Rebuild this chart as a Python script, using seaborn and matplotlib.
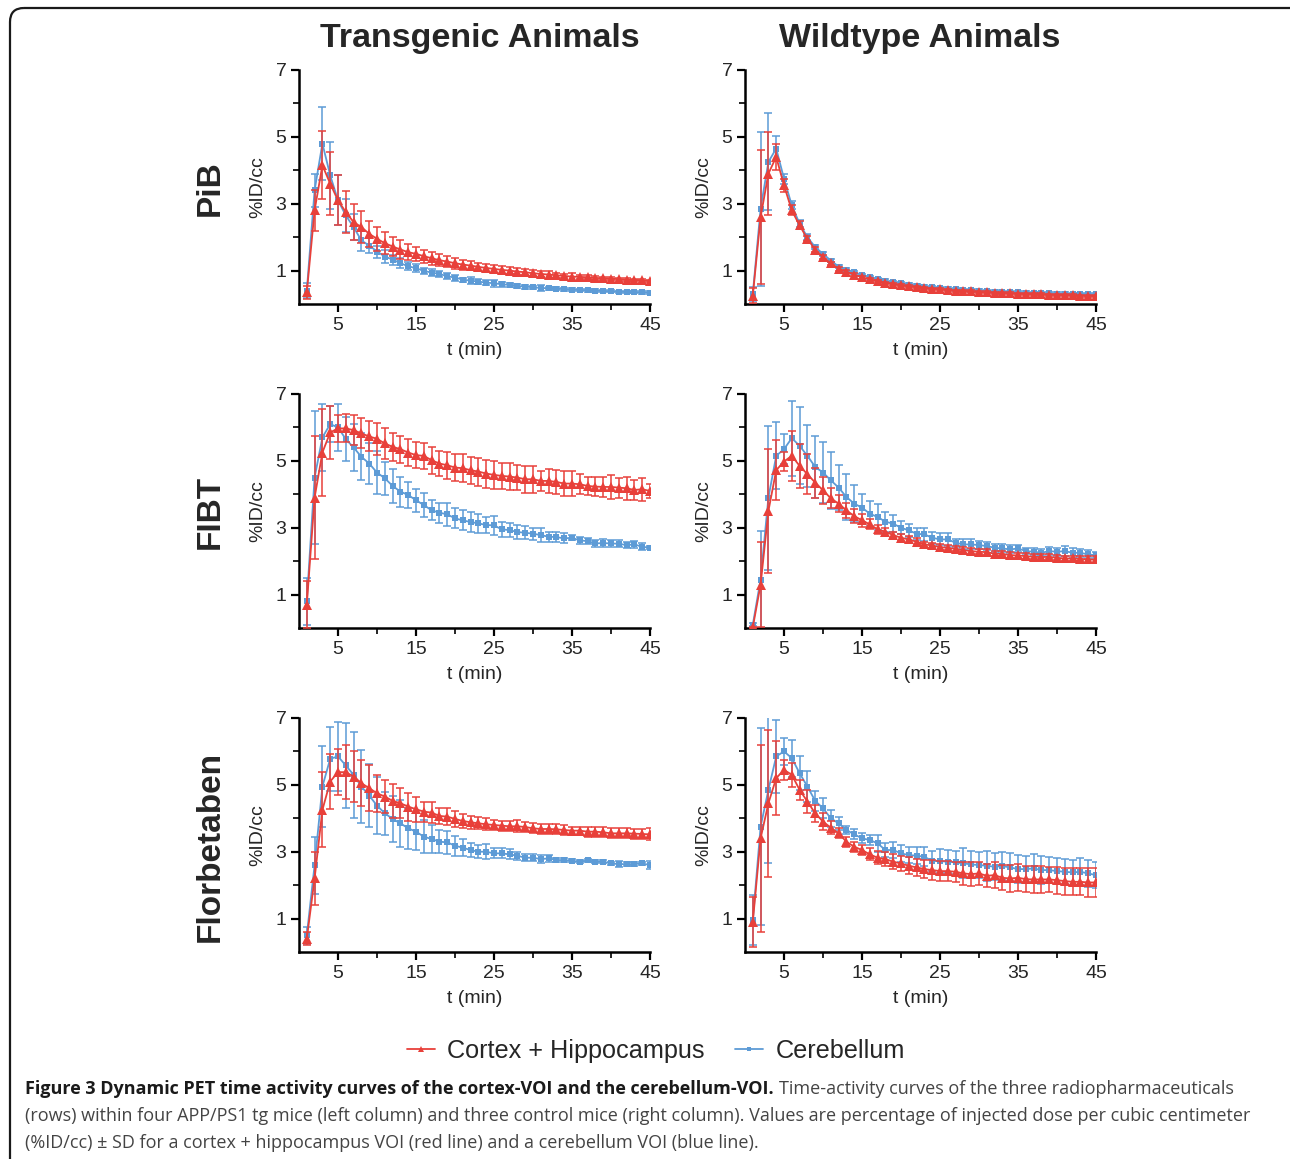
import numpy as np
import seaborn as sns
import matplotlib.pyplot as plt
from matplotlib.lines import Line2D
from matplotlib.patches import FancyBboxPatch
from matplotlib.ticker import FixedLocator

sns.set_style("ticks")
plt.rcParams['font.family'] = ['Liberation Sans', 'DejaVu Sans']

# frame times (min)
t_min = np.arange(1, 46)

# ---- PiB, transgenic ----
pib_tg_ctx = [0.35, 2.8, 4.15, 3.6, 3.1, 2.75, 2.45, 2.3, 2.1, 1.95, 1.82, 1.72, 1.63, 1.55, 1.5,
              1.43, 1.37, 1.31, 1.27, 1.22, 1.18, 1.15, 1.11, 1.08, 1.05, 1.02, 1.0, 0.97, 0.95, 0.92,
              0.9, 0.88, 0.86, 0.84, 0.82, 0.81, 0.8, 0.78, 0.77, 0.76, 0.74, 0.73, 0.72, 0.71, 0.69]
pib_tg_ctx_sd = [0.2, 0.62, 1.02, 0.95, 0.75, 0.62, 0.55, 0.47, 0.38, 0.36, 0.33, 0.27, 0.27, 0.24, 0.22,
                 0.2, 0.19, 0.18, 0.17, 0.16, 0.15, 0.14, 0.13, 0.12, 0.12, 0.11, 0.1, 0.1, 0.09, 0.09,
                 0.08, 0.12, 0.07, 0.07, 0.12, 0.06, 0.06, 0.05, 0.05, 0.05, 0.05, 0.05, 0.04, 0.04, 0.04]
pib_tg_cb = [0.4, 3.4, 4.8, 3.85, 3.1, 2.65, 2.3, 1.9, 1.75, 1.57, 1.42, 1.33, 1.22, 1.13, 1.07,
             0.99, 0.94, 0.9, 0.83, 0.79, 0.73, 0.7, 0.67, 0.64, 0.62, 0.59, 0.57, 0.54, 0.52, 0.5,
             0.48, 0.47, 0.46, 0.44, 0.43, 0.42, 0.41, 0.4, 0.39, 0.38, 0.37, 0.36, 0.35, 0.35, 0.34]
pib_tg_cb_sd = [0.22, 0.5, 1.1, 1.0, 0.75, 0.5, 0.4, 0.32, 0.22, 0.18, 0.2, 0.15, 0.15, 0.12, 0.12,
                0.1, 0.1, 0.1, 0.09, 0.09, 0.06, 0.1, 0.08, 0.07, 0.1, 0.08, 0.06, 0.07, 0.06, 0.05,
                0.08, 0.05, 0.05, 0.04, 0.04, 0.04, 0.04, 0.04, 0.03, 0.03, 0.03, 0.03, 0.03, 0.05, 0.05]

# ---- PiB, wildtype ----
pib_wt_ctx = [0.25, 2.6, 3.9, 4.4, 3.55, 2.8, 2.35, 1.95, 1.63, 1.4, 1.22, 1.05, 0.97, 0.88, 0.8,
              0.74, 0.69, 0.64, 0.6, 0.56, 0.53, 0.51, 0.48, 0.46, 0.44, 0.42, 0.4, 0.39, 0.38, 0.36,
              0.35, 0.34, 0.33, 0.32, 0.31, 0.3, 0.3, 0.29, 0.28, 0.27, 0.27, 0.26, 0.25, 0.24, 0.24]
pib_wt_ctx_sd = [0.22, 2.0, 1.25, 0.4, 0.2, 0.15, 0.12, 0.08, 0.07, 0.06, 0.05, 0.05, 0.05, 0.04, 0.04,
                 0.04, 0.04, 0.03, 0.03, 0.03, 0.03, 0.03, 0.03, 0.03, 0.03, 0.03, 0.03, 0.03, 0.03, 0.03,
                 0.03, 0.03, 0.03, 0.03, 0.03, 0.03, 0.03, 0.03, 0.03, 0.03, 0.03, 0.03, 0.03, 0.03, 0.03]
pib_wt_cb = [0.3, 2.85, 4.25, 4.65, 3.75, 2.95, 2.4, 2.0, 1.7, 1.5, 1.3, 1.12, 1.03, 0.95, 0.87,
             0.8, 0.75, 0.7, 0.66, 0.62, 0.58, 0.55, 0.52, 0.5, 0.48, 0.46, 0.44, 0.42, 0.41, 0.4,
             0.39, 0.37, 0.36, 0.36, 0.35, 0.34, 0.33, 0.33, 0.32, 0.31, 0.31, 0.3, 0.3, 0.29, 0.29]
pib_wt_cb_sd = [0.22, 2.3, 1.45, 0.38, 0.15, 0.12, 0.1, 0.08, 0.06, 0.05, 0.05, 0.04, 0.04, 0.04, 0.04,
                0.04, 0.04, 0.04, 0.04, 0.04, 0.04, 0.04, 0.04, 0.04, 0.04, 0.04, 0.04, 0.04, 0.04, 0.04,
                0.04, 0.04, 0.04, 0.04, 0.04, 0.04, 0.04, 0.04, 0.04, 0.04, 0.04, 0.04, 0.04, 0.04, 0.04]

# ---- FIBT, transgenic ----
fibt_tg_ctx = [0.7, 3.9, 5.25, 5.85, 5.97, 5.97, 5.92, 5.82, 5.73, 5.66, 5.52, 5.42, 5.35, 5.25, 5.17,
               5.15, 5.02, 4.92, 4.87, 4.8, 4.78, 4.72, 4.68, 4.62, 4.58, 4.55, 4.53, 4.5, 4.45, 4.45,
               4.4, 4.4, 4.37, 4.32, 4.32, 4.3, 4.25, 4.23, 4.22, 4.22, 4.2, 4.18, 4.13, 4.15, 4.1]
fibt_tg_ctx_sd = [0.7, 1.85, 1.3, 0.8, 0.4, 0.42, 0.45, 0.45, 0.45, 0.48, 0.45, 0.42, 0.4, 0.4, 0.38,
                  0.38, 0.4, 0.38, 0.4, 0.4, 0.42, 0.4, 0.42, 0.42, 0.42, 0.4, 0.4, 0.38, 0.4, 0.4,
                  0.3, 0.35, 0.35, 0.38, 0.38, 0.3, 0.28, 0.28, 0.3, 0.35, 0.3, 0.35, 0.3, 0.35, 0.22]
fibt_tg_cb = [0.8, 4.5, 5.7, 6.1, 6.0, 5.65, 5.4, 5.12, 4.92, 4.65, 4.48, 4.25, 4.08, 3.98, 3.82,
              3.68, 3.52, 3.45, 3.4, 3.28, 3.22, 3.17, 3.13, 3.08, 3.07, 2.95, 2.93, 2.87, 2.85, 2.82,
              2.78, 2.73, 2.72, 2.68, 2.7, 2.62, 2.6, 2.53, 2.54, 2.53, 2.52, 2.48, 2.5, 2.43, 2.4]
fibt_tg_cb_sd = [0.7, 2.0, 1.0, 0.55, 0.7, 0.65, 0.7, 0.7, 0.6, 0.65, 0.5, 0.5, 0.45, 0.4, 0.35,
                 0.35, 0.3, 0.3, 0.35, 0.3, 0.3, 0.3, 0.28, 0.25, 0.28, 0.22, 0.2, 0.2, 0.2, 0.18,
                 0.2, 0.15, 0.15, 0.15, 0.08, 0.1, 0.1, 0.1, 0.12, 0.1, 0.1, 0.1, 0.1, 0.1, 0.05]

# ---- FIBT, wildtype ----
fibt_wt_ctx = [0.02, 1.3, 3.5, 4.72, 4.98, 5.15, 4.85, 4.6, 4.35, 4.12, 3.88, 3.72, 3.52, 3.35, 3.22,
               3.1, 2.95, 2.88, 2.78, 2.7, 2.65, 2.58, 2.5, 2.47, 2.42, 2.4, 2.37, 2.33, 2.3, 2.28,
               2.27, 2.22, 2.22, 2.18, 2.17, 2.15, 2.13, 2.12, 2.13, 2.1, 2.08, 2.08, 2.07, 2.05, 2.05]
fibt_wt_ctx_sd = [0.02, 1.27, 1.85, 0.9, 0.28, 0.75, 0.65, 0.6, 0.45, 0.4, 0.3, 0.25, 0.22, 0.2, 0.2,
                  0.15, 0.13, 0.12, 0.1, 0.1, 0.1, 0.1, 0.08, 0.08, 0.08, 0.08, 0.08, 0.08, 0.08, 0.08,
                  0.08, 0.08, 0.08, 0.08, 0.08, 0.08, 0.08, 0.08, 0.08, 0.08, 0.08, 0.08, 0.08, 0.1, 0.1]
fibt_wt_cb = [0.1, 1.45, 3.9, 5.15, 5.35, 5.68, 5.45, 5.15, 4.82, 4.65, 4.42, 4.2, 3.92, 3.72, 3.6,
              3.42, 3.32, 3.18, 3.12, 3.0, 2.92, 2.82, 2.8, 2.7, 2.65, 2.65, 2.55, 2.5, 2.5, 2.48,
              2.45, 2.4, 2.38, 2.35, 2.38, 2.3, 2.28, 2.25, 2.3, 2.28, 2.3, 2.25, 2.25, 2.2, 2.18]
fibt_wt_cb_sd = [0.05, 1.45, 2.15, 1.0, 0.45, 1.12, 1.15, 0.92, 0.92, 0.9, 0.85, 0.68, 0.68, 0.55, 0.42,
                 0.38, 0.38, 0.3, 0.25, 0.2, 0.2, 0.18, 0.2, 0.18, 0.18, 0.2, 0.12, 0.15, 0.15, 0.12,
                 0.12, 0.12, 0.12, 0.12, 0.1, 0.1, 0.1, 0.1, 0.12, 0.12, 0.15, 0.15, 0.12, 0.12, 0.1]

# ---- Florbetaben, transgenic ----
fbb_tg_ctx = [0.4, 2.2, 4.25, 5.1, 5.38, 5.38, 5.25, 5.05, 4.9, 4.75, 4.65, 4.52, 4.45, 4.35, 4.27,
              4.2, 4.17, 4.07, 4.05, 3.98, 3.92, 3.88, 3.85, 3.82, 3.8, 3.78, 3.76, 3.76, 3.74, 3.7,
              3.68, 3.68, 3.67, 3.65, 3.63, 3.63, 3.6, 3.6, 3.58, 3.55, 3.55, 3.55, 3.54, 3.53, 3.52]
fbb_tg_ctx_sd = [0.2, 0.8, 1.12, 0.82, 0.68, 0.8, 0.75, 0.68, 0.68, 0.55, 0.5, 0.5, 0.45, 0.42, 0.38,
                 0.3, 0.32, 0.25, 0.25, 0.25, 0.2, 0.2, 0.18, 0.18, 0.15, 0.15, 0.15, 0.18, 0.15, 0.15,
                 0.15, 0.15, 0.15, 0.15, 0.12, 0.12, 0.15, 0.15, 0.15, 0.15, 0.15, 0.15, 0.15, 0.15, 0.18]
fbb_tg_cb = [0.5, 2.6, 4.95, 5.78, 5.85, 5.58, 5.3, 4.95, 4.68, 4.38, 4.15, 3.98, 3.85, 3.7, 3.6,
             3.45, 3.38, 3.3, 3.28, 3.18, 3.12, 3.05, 3.0, 3.0, 2.95, 2.95, 2.92, 2.88, 2.82, 2.82,
             2.78, 2.8, 2.75, 2.75, 2.73, 2.7, 2.74, 2.7, 2.7, 2.65, 2.63, 2.63, 2.63, 2.65, 2.6]
fbb_tg_cb_sd = [0.25, 0.85, 1.2, 0.95, 1.02, 1.28, 1.28, 1.1, 0.95, 0.85, 0.65, 0.7, 0.7, 0.62, 0.55,
                0.5, 0.42, 0.35, 0.35, 0.3, 0.25, 0.22, 0.2, 0.22, 0.15, 0.15, 0.15, 0.12, 0.1, 0.1,
                0.12, 0.1, 0.05, 0.05, 0.05, 0.05, 0.05, 0.05, 0.05, 0.05, 0.08, 0.05, 0.05, 0.05, 0.12]

# ---- Florbetaben, wildtype ----
fbb_wt_ctx = [0.9, 3.4, 4.45, 5.2, 5.45, 5.3, 4.85, 4.5, 4.15, 3.9, 3.72, 3.55, 3.3, 3.15, 3.05,
              2.92, 2.82, 2.78, 2.7, 2.65, 2.58, 2.53, 2.48, 2.45, 2.42, 2.42, 2.4, 2.35, 2.33, 2.35,
              2.28, 2.3, 2.22, 2.2, 2.22, 2.18, 2.17, 2.17, 2.17, 2.15, 2.12, 2.1, 2.1, 2.08, 2.08]
fbb_wt_ctx_sd = [0.75, 2.8, 2.2, 1.1, 0.3, 0.35, 0.3, 0.35, 0.25, 0.25, 0.2, 0.15, 0.15, 0.15, 0.15,
                 0.18, 0.2, 0.2, 0.22, 0.22, 0.25, 0.25, 0.28, 0.3, 0.3, 0.3, 0.3, 0.35, 0.35, 0.35,
                 0.35, 0.38, 0.38, 0.4, 0.4, 0.38, 0.4, 0.4, 0.38, 0.4, 0.4, 0.4, 0.4, 0.42, 0.42]
fbb_wt_cb = [0.95, 3.75, 4.85, 5.85, 6.0, 5.8, 5.35, 4.95, 4.52, 4.3, 4.0, 3.85, 3.65, 3.52, 3.4,
             3.35, 3.25, 3.05, 3.05, 2.95, 2.9, 2.88, 2.85, 2.72, 2.72, 2.7, 2.68, 2.65, 2.62, 2.6,
             2.58, 2.55, 2.57, 2.53, 2.48, 2.48, 2.5, 2.45, 2.45, 2.42, 2.4, 2.38, 2.4, 2.35, 2.3]
fbb_wt_cb_sd = [0.75, 2.95, 2.2, 1.1, 0.4, 0.55, 0.5, 0.45, 0.3, 0.3, 0.25, 0.2, 0.12, 0.15, 0.15,
                0.15, 0.25, 0.22, 0.25, 0.25, 0.25, 0.25, 0.28, 0.3, 0.35, 0.35, 0.35, 0.45, 0.4, 0.4,
                0.45, 0.4, 0.42, 0.42, 0.42, 0.4, 0.42, 0.42, 0.4, 0.38, 0.38, 0.38, 0.4, 0.4, 0.4]

col_titles = ["Transgenic Animals", "Wildtype Animals"]
row_titles = ["PiB", "FIBT", "Florbetaben"]
legend_labels = ["Cortex + Hippocampus", "Cerebellum"]
x_ticks = [5, 15, 25, 35, 45]
y_ticks = [1, 3, 5, 7]

panels = [
    [(pib_tg_ctx, pib_tg_ctx_sd, pib_tg_cb, pib_tg_cb_sd), (pib_wt_ctx, pib_wt_ctx_sd, pib_wt_cb, pib_wt_cb_sd)],
    [(fibt_tg_ctx, fibt_tg_ctx_sd, fibt_tg_cb, fibt_tg_cb_sd), (fibt_wt_ctx, fibt_wt_ctx_sd, fibt_wt_cb, fibt_wt_cb_sd)],
    [(fbb_tg_ctx, fbb_tg_ctx_sd, fbb_tg_cb, fbb_tg_cb_sd), (fbb_wt_ctx, fbb_wt_ctx_sd, fbb_wt_cb, fbb_wt_cb_sd)],
]

RED = "#e8403a"
BLUE = "#5d9bd6"

W, H = 1290, 1159
fig = plt.figure(figsize=(W / 100, H / 100), dpi=100)
fig.patch.set_facecolor("white")

# overlay axes in pixel units for frame, titles and caption
bg = fig.add_axes([0, 0, 1, 1], zorder=-1)
bg.set_xlim(0, W)
bg.set_ylim(H, 0)
bg.axis("off")
bg.add_patch(FancyBboxPatch((10, 8), 1300, 1200, boxstyle="round,pad=0,rounding_size=14",
                            fc="none", ec="#1a1a1a", lw=1.6))

col_left = [299, 745]
row_top = [70, 394, 718]
pw, ph = 351, 234


def draw_panel(ax, ctx, ctx_sd, cb, cb_sd):
    # cerebellum first, cortex on top
    ax.errorbar(t_min, cb, yerr=cb_sd, fmt="none", ecolor=BLUE, elinewidth=1.1, capsize=3, capthick=1.1, zorder=2)
    sns.lineplot(x=t_min, y=cb, ax=ax, color=BLUE, lw=1.3, marker="s", markersize=5,
                 markeredgewidth=0, zorder=3)
    ax.errorbar(t_min, ctx, yerr=ctx_sd, fmt="none", ecolor=RED, elinewidth=1.1, capsize=3, capthick=1.1, zorder=4)
    sns.lineplot(x=t_min, y=ctx, ax=ax, color=RED, lw=1.3, marker="^", markersize=7,
                 markeredgewidth=0, zorder=5)
    ax.set_xlim(0, 45)
    ax.set_ylim(0, 7)
    ax.xaxis.set_major_locator(FixedLocator(x_ticks))
    ax.xaxis.set_minor_locator(FixedLocator([10, 20, 30, 40]))
    ax.yaxis.set_major_locator(FixedLocator(y_ticks))
    ax.yaxis.set_minor_locator(FixedLocator([2, 4, 6]))
    ax.tick_params(which="major", length=6, width=1.6, labelsize=14, pad=3, color="black")
    ax.tick_params(which="minor", length=4, width=1.2, color="black")
    for s in ["left", "bottom"]:
        ax.spines[s].set_linewidth(1.8)
        ax.spines[s].set_color("black")
    sns.despine(ax=ax)
    ax.set_xlabel("t (min)", fontsize=14, labelpad=6)
    ax.set_ylabel("%ID/cc", fontsize=14, labelpad=7)
    ax.patch.set_alpha(0)


for r in range(3):
    for c in range(2):
        l = col_left[c] / W
        b = 1 - (row_top[r] + ph) / H
        ax = fig.add_axes([l, b, pw / W, ph / H])
        draw_panel(ax, *panels[r][c])

title_x = [480, 920]
for c, title in enumerate(col_titles):
    bg.text(title_x[c], 39, title, fontsize=24.5, fontweight="bold", ha="center", va="center")
row_y = [188, 512, 846]
for r, label in enumerate(row_titles):
    bg.text(210, row_y[r], label, fontsize=24, fontweight="bold", ha="center", va="center", rotation=90)

handles = [Line2D([], [], color=RED, lw=1.3, marker="^", markersize=5, markeredgewidth=0),
           Line2D([], [], color=BLUE, lw=1.3, marker="s", markersize=3.5, markeredgewidth=0)]
fig.legend(handles, legend_labels, loc="center", bbox_to_anchor=(656 / W, 1 - 1051 / H), ncol=2,
           frameon=False, fontsize=18.2, handlelength=1.1, handletextpad=0.5, columnspacing=1.2)

# caption
cap_font = ["Open Sans", "DejaVu Sans"]
cap_size = 13.0
fig.canvas.draw()
renderer = fig.canvas.get_renderer()
bold = bg.text(25, 1089, "Figure 3 Dynamic PET time activity curves of the cortex-VOI and the cerebellum-VOI.",
               fontsize=cap_size, fontweight="bold", family=cap_font, color="#1a1a1a", va="center")
bb = bold.get_window_extent(renderer=renderer)
bg.text(bb.x1 + 5, 1089, "Time-activity curves of the three radiopharmaceuticals",
        fontsize=cap_size, family=cap_font, color="#444444", va="center")
bg.text(25, 1116, "(rows) within four APP/PS1 tg mice (left column) and three control mice (right column). "
                  "Values are percentage of injected dose per cubic centimeter",
        fontsize=cap_size, family=cap_font, color="#444444", va="center")
bg.text(25, 1143, "(%ID/cc) \u00b1 SD for a cortex + hippocampus VOI (red line) and a cerebellum VOI (blue line).",
        fontsize=cap_size, family=cap_font, color="#444444", va="center")

fig.savefig("out.png", dpi=100)
